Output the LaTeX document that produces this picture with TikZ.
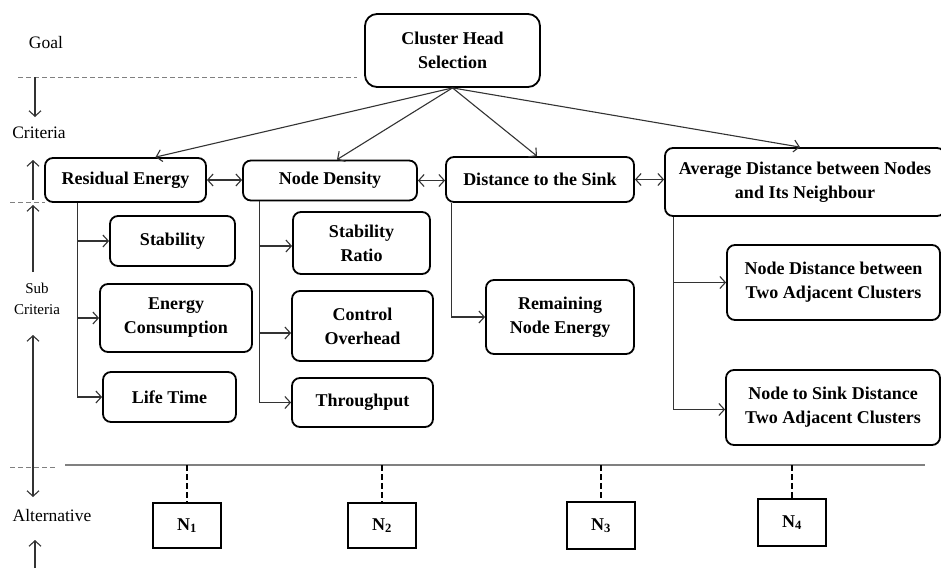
\documentclass[tikz,border=0pt]{standalone}
\usepackage{fontspec}
\setmainfont{Liberation Serif}
\usetikzlibrary{arrows.meta,calc}

\tikzset{
  box/.style={draw, line width=1.8pt, rounded corners=8pt, align=center,
    inner sep=2pt, font=\bfseries\fontsize{18}{24}\selectfont},
  altbox/.style={draw, line width=1.8pt, minimum width=68, minimum height=45,
    font=\bfseries\fontsize{18}{20}\selectfont},
  lvl/.style={font=\fontsize{17.5}{20}\selectfont},
  link/.style={line width=1.1pt, black!80},
  sep/.style={line width=0.9pt, gray, dashed, dash pattern=on 5pt off 3pt},
}

\begin{document}
\begin{tikzpicture}[x=1pt, y=-1pt, >={Straight Barb[length=5.5pt,width=12pt]}]
  \useasboundingbox (0,0) rectangle (941,568);

  % --- Goal ---
  \node[box, rounded corners=12pt, minimum width=175, minimum height=73] (chs) at (452.5,50.5)
    {Cluster Head\\Selection};

  % --- Criteria ---
  \node[box, minimum width=161, minimum height=44] (re) at (125.5,180) {Residual Energy};
  \node[box, minimum width=174, minimum height=40] (nd) at (330,180.5) {Node Density};
  \node[box, minimum width=188, minimum height=45] (ds) at (540,179.5) {Distance to the Sink};
  \node[box, minimum width=280, minimum height=68] (ad) at (805,182)
    {Average Distance between Nodes\\and Its Neighbour};

  \draw[link, ->] (chs.south) -- ([xshift=30pt]re.north);
  \draw[link, ->] (chs.south) -- ([xshift=7pt]nd.north);
  \draw[link, ->] (chs.south) -- ([xshift=-3pt]ds.north);
  \draw[link, ->] (chs.south) -- ([xshift=-5pt]ad.north);

  \draw[link, <->] (re.east) -- (re.east -| nd.west);
  \draw[link, <->] (nd.east) -- (nd.east -| ds.west);
  \draw[link, <->] (ds.east) -- (ds.east -| ad.west);

  % --- Sub criteria ---
  \node[box, minimum width=125, minimum height=50] (st) at (172.5,241) {Stability};
  \node[box, minimum width=152, minimum height=68] (ec) at (176,318) {Energy\\Consumption};
  \node[box, minimum width=133, minimum height=50] (lt) at (169.5,397) {Life Time};

  \node[box, minimum width=137, minimum height=62] (sr) at (361.5,243) {Stability\\Ratio};
  \node[box, minimum width=141, minimum height=70] (co) at (362.5,326) {Control\\Overhead};
  \node[box, minimum width=141, minimum height=49] (tp) at (362.5,402.5) {Throughput};

  \node[box, minimum width=148, minimum height=74] (rne) at (560,317) {Remaining\\Node Energy};

  \node[box, minimum width=213, minimum height=75] (ndc) at (833.5,282.5)
    {Node Distance between\\Two Adjacent Clusters};
  \node[box, minimum width=214, minimum height=75] (nsd) at (833,407.5)
    {Node to Sink Distance\\Two Adjacent Clusters};

  \draw[link, ->] ([xshift=33pt]re.south west) |- (st.west);
  \draw[link, ->] ([xshift=33pt]re.south west) |- (ec.west);
  \draw[link, ->] ([xshift=33pt]re.south west) |- (lt.west);

  \draw[link, ->] ([xshift=17pt]nd.south west) |- ([yshift=-3pt]sr.west);
  \draw[link, ->] ([xshift=17pt]nd.south west) |- ([yshift=-7pt]co.west);
  \draw[link, ->] ([xshift=17pt]nd.south west) |- (tp.west);

  \draw[link, ->] ([xshift=6pt]ds.south west) |- (rne.west);

  \draw[link, ->] ([xshift=9pt]ad.south west) |- (ndc.west);
  \draw[link, ->] ([xshift=9pt]ad.south west) |- ([yshift=-2pt]nsd.west);

  % --- Alternatives ---
  \coordinate (bl) at (65,465);
  \coordinate (br) at (925,465);
  \draw[line width=1.2pt, gray] (bl) -- (br);

  \node[altbox] (n1) at (187,525.5) {N\textsubscript{1}};
  \node[altbox] (n2) at (382,525.5) {N\textsubscript{2}};
  \node[altbox, minimum height=47] (n3) at (601,525.5) {N\textsubscript{3}};
  \node[altbox, minimum height=47] (n4) at (792,522.5) {N\textsubscript{4}};

  \foreach \n in {n1,n2,n3,n4}
    \draw[line width=2.2pt, dash pattern=on 6pt off 3pt] (\n.north |- bl) -- (\n.north);

  % --- Levels ---
  \node[lvl] (goal) at (46,43) {Goal};
  \node[lvl] (crit) at (39,133) {Criteria};
  \node[lvl, align=center, font=\fontsize{15}{21}\selectfont] (sub) at (37,299) {Sub\\Criteria};
  \node[lvl] (alt) at (52,516) {Alternative};

  \draw[sep] (18,77) -- (357,77);
  \draw[sep] (10,202) -- (45,202);
  \draw[sep] (10,467) -- (55,467);

  \coordinate (g1) at (35,77);
  \coordinate (g2) at (35,117);
  \coordinate (c1) at (33,200);
  \coordinate (c2) at (33,160);
  \coordinate (s1) at (33,272);
  \coordinate (s2) at (33,205);
  \coordinate (a1) at (33,335);
  \coordinate (a2) at (33,497);
  \coordinate (b1) at (35,568);
  \coordinate (b2) at (35,540);
  \draw[link, ->] (g1) -- (g2);
  \draw[link, ->] (c1) -- (c2);
  \draw[link, ->] (s1) -- (s2);
  \draw[link, <->] (a1) -- (a2);
  \draw[link, ->] (b1) -- (b2);
\end{tikzpicture}
\end{document}
